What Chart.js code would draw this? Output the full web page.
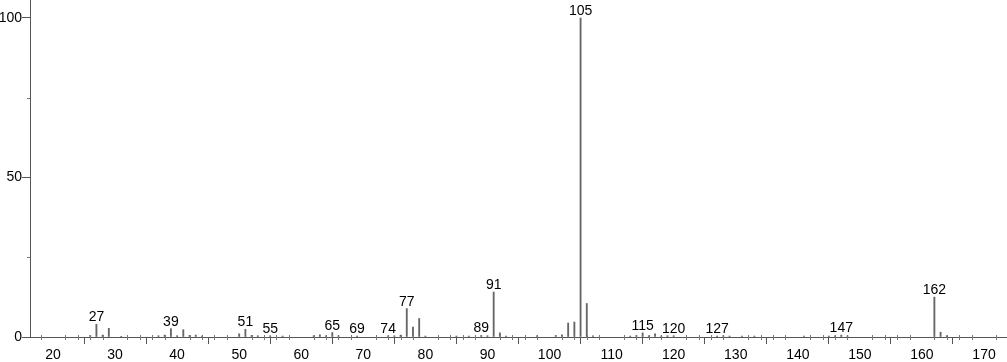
<!DOCTYPE html>
<html>
<head>
<meta charset="utf-8">
<script src="https://cdn.jsdelivr.net/npm/chart.js@4.4.1/dist/chart.umd.min.js"></script>
<style>
html,body{margin:0;padding:0;background:#fff;}
#wrap{width:1007px;height:362px;position:relative;}
</style>
</head>
<body>
<div id="wrap"><canvas id="c"></canvas></div>
<script>
// m/z values and relative intensities (%)
const mz = [26,27,28,29,31,37,38,39,40,41,42,43,44,50,51,52,53,55,57,62,63,64,65,66,69,74,75,76,77,78,79,80,85,87,89,90,91,92,93,98,101,102,103,104,105,106,107,113,114,115,116,117,118,119,120,127,128,129,131,133,141,145,146,147,148,162,163,164];
const intensity = [0.5,4.0,0.6,2.7,0.2,0.4,0.6,2.6,0.4,2.3,0.5,0.6,0.3,1.0,2.4,0.5,0.4,0.4,0.3,0.4,0.7,0.4,1.4,0.4,0.3,0.4,0.4,0.6,8.9,3.1,5.8,0.3,0.3,0.3,0.5,0.4,14.1,1.3,0.3,0.4,0.5,0.7,4.4,4.7,100,10.5,0.4,0.3,0.5,1.3,0.4,1.0,0.3,0.4,0.4,0.3,0.4,0.3,0.3,0.3,0.3,0.3,0.4,0.6,0.3,12.5,1.5,0.4];
// peaks carrying a text label
const labeledPeaks = [27,39,51,55,65,69,74,77,89,91,105,115,120,127,147,162];
// axis ticks
const xMajorTicks = [20,30,40,50,60,70,80,90,100,110,120,130,140,150,160,170];
const xMinorTicks = [18,22,24,26,28,32,34,36,38,42,44,46,48,52,54,56,58,62,64,66,68,72,74,76,78,82,84,86,88,92,94,96,98,102,104,106,108,112,114,116,118,122,124,126,128,132,134,136,138,142,144,146,148,152,154,156,158,162,164,166,168,172];
const yMajorTicks = [0,50,100];
const yMinorTicks = [25,75];

const FONT = "'Liberation Sans', Arial, sans-serif";
const AXIS = '#555';

const peakLabels = {
  id: 'peakLabels',
  afterDatasetsDraw(chart) {
    const ctx = chart.ctx, xs = chart.scales.x, ys = chart.scales.y;
    ctx.save();
    ctx.font = '14px ' + FONT;
    ctx.fillStyle = '#000';
    ctx.textAlign = 'center';
    ctx.textBaseline = 'alphabetic';
    labeledPeaks.forEach(m => {
      const i = mz.indexOf(m);
      const v = i >= 0 ? intensity[i] : 0;
      ctx.fillText(String(m), xs.getPixelForValue(m), ys.getPixelForValue(v) - 3);
    });
    ctx.restore();
  }
};

const minorTicks = {
  id: 'minorTicks',
  afterDraw(chart) {
    const ctx = chart.ctx, xs = chart.scales.x, ys = chart.scales.y;
    const a = chart.chartArea;
    ctx.save();
    ctx.strokeStyle = '#777';
    ctx.lineWidth = 1;
    ctx.beginPath();
    xMinorTicks.forEach(t => {
      const px = Math.round(xs.getPixelForValue(t)) + 0.5;
      ctx.moveTo(px, a.bottom - 2);
      ctx.lineTo(px, a.bottom + 3);
    });
    yMinorTicks.forEach(t => {
      const py = Math.round(ys.getPixelForValue(t)) + 0.5;
      ctx.moveTo(a.left - 3, py);
      ctx.lineTo(a.left, py);
    });
    ctx.stroke();
    ctx.restore();
  }
};

new Chart(document.getElementById('c'), {
  type: 'bar',
  data: {
    datasets: [{
      data: mz.map((m, i) => ({x: m, y: intensity[i]})),
      backgroundColor: '#666666',
      borderWidth: 0,
      barThickness: 1.2
    }]
  },
  options: {
    responsive: true,
    maintainAspectRatio: false,
    animation: false,
    layout: {padding: {left: 0, right: 0, top: 0, bottom: 0}},
    plugins: {legend: {display: false}, tooltip: {enabled: false}},
    scales: {
      x: {
        type: 'linear',
        min: 16.3, max: 173.7,
        offset: false,
        afterFit: s => { s.height = 25; s.paddingLeft = 0; s.paddingRight = 0; },
        afterBuildTicks: s => { s.ticks = xMajorTicks.map(v => ({value: v})); },
        grid: {display: true, drawOnChartArea: false, drawTicks: true, tickLength: 7, color: AXIS, tickColor: AXIS},
        border: {display: true, color: AXIS, width: 1},
        ticks: {font: {family: FONT, size: 14}, color: '#000', padding: 3, maxRotation: 0, autoSkip: false}
      },
      y: {
        type: 'linear',
        min: 0, max: 105.64,
        afterFit: s => { s.width = 30; s.paddingTop = 0; s.paddingBottom = 0; },
        afterBuildTicks: s => { s.ticks = yMajorTicks.map(v => ({value: v})); },
        grid: {display: true, drawOnChartArea: false, drawTicks: true, tickLength: 8, color: AXIS, tickColor: AXIS},
        border: {display: true, color: AXIS, width: 1},
        ticks: {font: {family: FONT, size: 14}, color: '#000', padding: 0, autoSkip: false}
      }
    }
  },
  plugins: [peakLabels, minorTicks]
});
</script>
</body>
</html>
